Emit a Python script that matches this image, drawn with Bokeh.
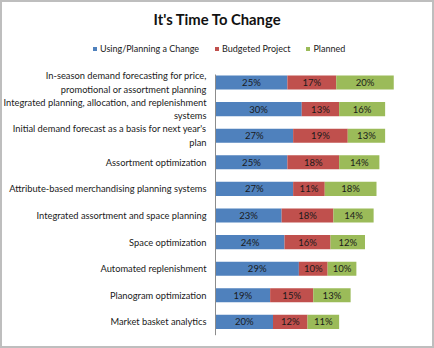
from bokeh.plotting import figure
from bokeh.models import ColumnDataSource, Range1d, Legend, LegendItem
from bokeh.core.properties import value
from bokeh.embed import file_html
from bokeh.resources import INLINE

categories = [
    "In-season demand forecasting for price, promotional or assortment planning",
    "Integrated planning, allocation, and replenishment systems",
    "Initial demand forecast as a basis for next year's plan",
    "Assortment optimization",
    "Attribute-based merchandising planning systems",
    "Integrated assortment and space planning",
    "Space optimization",
    "Automated replenishment",
    "Planogram optimization",
    "Market basket analytics",
]
tick_labels = [
    "In-season demand forecasting for price,\npromotional or assortment planning",
    "Integrated planning, allocation, and replenishment\nsystems",
    "Initial demand forecast as a basis for next year's\nplan",
    "Assortment optimization",
    "Attribute-based merchandising planning systems",
    "Integrated assortment and space planning",
    "Space optimization",
    "Automated replenishment",
    "Planogram optimization",
    "Market basket analytics",
]
series_names = ["Using/Planning a Change", "Budgeted Project", "Planned"]
using = [25, 30, 27, 25, 27, 23, 24, 29, 19, 20]
budgeted = [17, 13, 19, 18, 11, 18, 16, 10, 15, 12]
planned = [20, 16, 13, 14, 18, 14, 12, 10, 13, 11]
colors = ["#4F81BD", "#C0504D", "#9BBB59"]

FONT = "Lato"
TXT = "#1a1a1a"

n = len(categories)
ypos = [n - 1 - i for i in range(n)]  # first category at the top

src = ColumnDataSource(dict(cat=categories, y=ypos, using=using, budgeted=budgeted, planned=planned))

p = figure(width=434, height=348, output_backend="svg", toolbar_location=None,
           y_range=Range1d(-0.925, n - 1 + 1.917), x_range=Range1d(-74.09, 72.0),
           min_border_left=0, min_border_right=14, min_border_top=29, min_border_bottom=4,
           title="It's Time To Change")
p.styles = {"border": "2px solid #BEBEBE"}

renderers = p.hbar_stack(["using", "budgeted", "planned"], y="y", height=0.53,
                         color=colors, source=src, line_color=None)

# data labels
stack = [using, budgeted, planned]
for i, vals in enumerate(stack):
    left = [sum(v) for v in zip(*stack[:i])] if i > 0 else [0] * len(vals)
    mids = [l + v / 2 for l, v in zip(left, vals)]
    txt = [f"{v}%" for v in vals]
    p.text(x=mids, y=ypos, text=txt, text_align="center", text_baseline="middle",
           text_font=value(FONT), text_font_size="9.5px", text_color=TXT)

# category labels
p.text(x=[0] * n, y=ypos, text=tick_labels, x_offset=-9,
       text_align="right", text_baseline="middle", text_line_height=1.25,
       text_font=value(FONT), text_font_size="9.3px", text_color=TXT)

# category axis line
p.segment(x0=[0], y0=[-0.5], x1=[0], y1=[n - 0.5 - 0.2], line_color="#8c8c8c", line_width=1)

legend = Legend(items=[LegendItem(label=s, renderers=[r]) for s, r in zip(series_names, renderers)],
                orientation="horizontal", location=(90, 292),
                glyph_width=5, glyph_height=5, label_text_font=FONT, label_text_font_size="9px",
                label_standoff=3, spacing=15, border_line_color=None, background_fill_alpha=0,
                padding=0, margin=0, label_height=10, label_text_color=TXT)
p.add_layout(legend, "center")

p.title.align = "left"
p.title.offset = 151
p.title.standoff = 8
p.title.text_font = FONT
p.title.text_font_size = "14.8px"
p.title.text_font_style = "bold"
p.title.text_color = "#111111"

p.xaxis.visible = False
p.yaxis.visible = False
p.xgrid.visible = False
p.ygrid.visible = False
p.outline_line_color = None

open("out.html", "w").write(file_html(p, INLINE))
